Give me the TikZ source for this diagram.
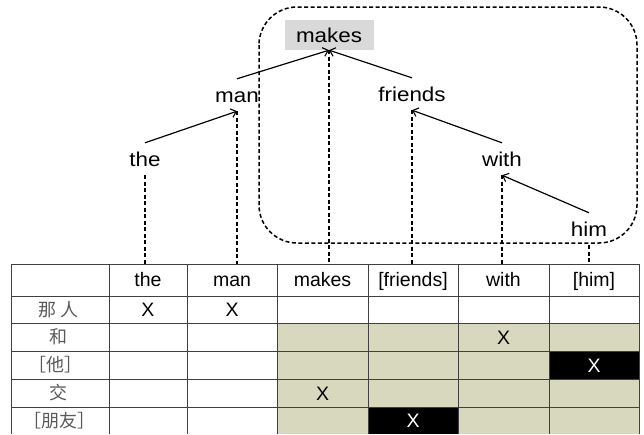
\documentclass[tikz,border=0pt]{standalone}
\usepackage{fontspec}
\setmainfont{Liberation Sans}
\newfontfamily\cjk{Noto Sans CJK SC}
\newfontfamily\treefont[FakeStretch=1.12]{Liberation Sans}
\usetikzlibrary{arrows.meta}
\definecolor{beige}{RGB}{216,216,190}
\definecolor{boxgray}{RGB}{217,217,217}
\begin{document}
\begin{tikzpicture}[x=1pt,y=-1pt,
  word/.style={font=\treefont\fontsize{20}{24}\selectfont, minimum height=32pt, inner sep=0pt, text height=14.3pt, text depth=0pt},
  headbox/.style={word, minimum height=30pt, minimum width=89pt, fill=boxgray},
  arr/.style={line width=1.2pt, -{Straight Barb[length=5pt,width=9pt,line width=1.1pt]}},
  dline/.style={line width=1.5pt, dash pattern=on 4pt off 2.5pt},
  tline/.style={line width=1pt, black!75},
  cell/.style={font=\fontsize{19.5}{22}\selectfont, inner sep=0pt, text height=14pt, text depth=0pt},
  cjkcell/.style={font=\cjk\fontsize{18}{20}\selectfont, text=black!65, inner sep=0pt},
  wx/.style={cell, text=white}]
\useasboundingbox (0,0) rectangle (644,434);
% table fills
\fill[beige] (277,323) rectangle (639,434);
\fill[black] (549,351) rectangle (639,379);
\fill[black] (368,407) rectangle (458,434);
% table grid
\foreach \y in {264,296,323,351,379,407} \draw[tline] (11,\y) -- (639,\y);
\foreach \x in {11,109,187,277,368,458,549,639} \draw[tline] (\x,264) -- (\x,434);
\coordinate (ttop) at (0,264);
% header row
\node[cell] (h1) at (148,279.5) {the};
\node[cell] (h2) at (232,279.5) {man};
\node[cell] (h3) at (322.5,279.5) {makes};
\node[cell] (h4) at (413,279.5) {[friends]};
\node[cell] (h5) at (503.5,279.5) {with};
\node[cell] (h6) at (594,279.5) {[him]};
% row labels
\node[cjkcell] (r1) at (58.5,309.5) {那\hspace{5pt}人};
\node[cjkcell] (r2) at (58.5,337) {和};
\node[cjkcell] (r3) at (55,365) {［他］};
\node[cjkcell] (r4) at (58.5,393) {交};
\node[cjkcell] (r5) at (59,420.5) {［朋友］};
% marks
\node[cell] (x1) at (148,309.5) {X};
\node[cell] (x2) at (232,309.5) {X};
\node[cell] (x3) at (503.5,337) {X};
\node[wx] (x4) at (594,365) {X};
\node[cell] (x5) at (322.5,393) {X};
\node[wx] (x6) at (413,420.5) {X};
% tree
\draw[dline, rounded corners=38pt] (259,7) rectangle (637,243);
\node[headbox] (makes) at (329,35) {makes};
\node[word] (man) at (237,95) {man};
\node[word] (friends) at (412,94) {friends};
\node[word] (the) at (145,159) {the};
\node[word] (with) at (502,159) {with};
\node[word] (him) at (589,229) {him};
\draw[arr] (the.north) -- (man.south);
\draw[arr] (man.north) -- (makes.south);
\draw[arr] (friends.north) -- (makes.south);
\draw[arr] (with.north) -- (friends.south);
\draw[arr] (him.north) -- (with.south);
% projections
\foreach \n in {the,man,makes,friends,with,him}
  \draw[dline] (\n.south) -- (\n.south |- ttop);
\end{tikzpicture}
\end{document}
